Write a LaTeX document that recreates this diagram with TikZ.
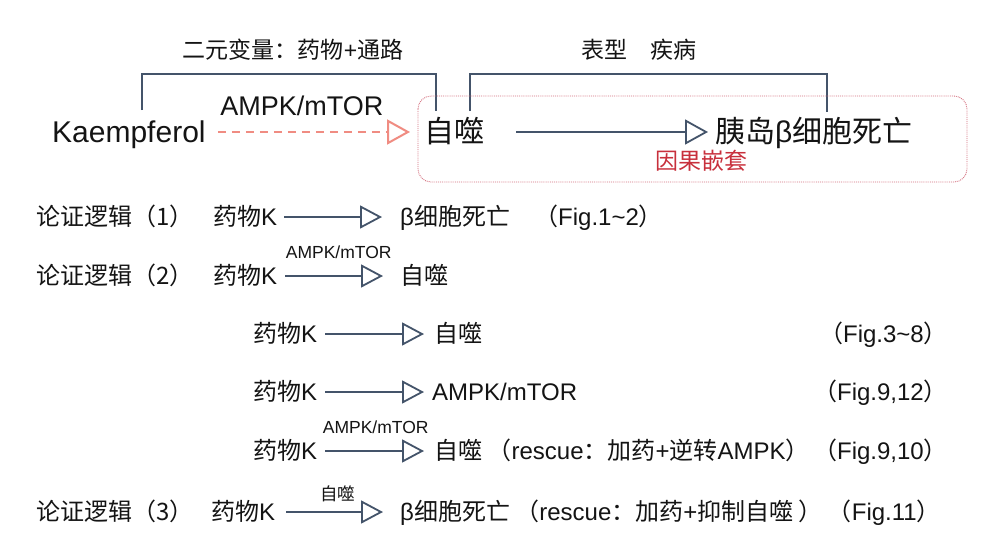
\documentclass[tikz,border=0pt]{standalone}
\usepackage{fontspec}
\setmainfont{Liberation Sans}
\newfontfamily\cjk{Noto Sans CJK SC}
\usetikzlibrary{arrows.meta}
\newcommand{\zh}[1]{{\cjk #1}}
\definecolor{arrowblue}{HTML}{44546A}
\definecolor{salmon}{HTML}{F08C82}
\definecolor{boxred}{HTML}{D4707E}
\definecolor{nestred}{HTML}{C8303C}
\definecolor{ink}{HTML}{141414}
\tikzset{
  big/.style={inner sep=0pt, anchor=west, text=ink, font=\fontsize{30}{36}\selectfont, text height=25pt, text depth=5pt},
  txt/.style={inner sep=0pt, anchor=west, text=ink, font=\fontsize{24}{29}\selectfont, text height=20pt, text depth=4pt},
  title/.style={inner sep=0pt, anchor=base, text=ink, font=\fontsize{23}{28}\selectfont},
  small/.style={inner sep=0pt, anchor=base, text=ink, font=\fontsize{17.5}{21}\selectfont},
  figtxt/.style={txt, anchor=east},
  arr/.style={draw=arrowblue, line width=1.8pt, -{Triangle[open, length=22pt, width=23pt]}},
  bigarr/.style={draw=arrowblue, line width=1.8pt, -{Triangle[open, length=23pt, width=25pt]}},
  dasharr/.style={draw=salmon, line width=2pt, dash pattern=on 8pt off 6pt, -{Triangle[open, length=23pt, width=25pt]}},
  bracket/.style={draw=arrowblue, line width=2pt},
}
\begin{document}
\begin{tikzpicture}[x=1pt, y=-1pt]
\useasboundingbox (0,0) rectangle (1002,552);
\fill[white] (0,0) rectangle (1002,552);

% top section
\node[title] (t1) at (293,58) {\zh{二元变量：药物}+\zh{通路}};
\node[title] (t2) at (639,58) {\zh{表型}\hspace{1em}\zh{疾病}};

\draw[bracket] (142,110) -- (142,74) -- (436,74) -- (436,111);
\draw[bracket] (470,111) -- (470,74) -- (827,74) -- (827,112);

\draw[boxred, line width=0.9pt, densely dotted, rounded corners=13pt] (418,96) rectangle (967,182);

\node[big] (kae) at (52,132) {Kaempferol};
\node[big] (auto) at (424,132) {\zh{自噬}};
\node[big] (death) at (715,132) {\zh{胰岛}β\zh{细胞死亡}};
\node[title, text=nestred] (nest) at (701,169) {\zh{因果嵌套}};

\draw[dasharr, shorten <=12pt, shorten >=14pt] (kae.east) -- node[pos=0.44, above=15pt, inner sep=0pt, text=ink, font=\fontsize{27}{32}\selectfont] (lab0) {AMPK/mTOR} (auto.west);
\draw[bigarr, shorten <=32pt, shorten >=7pt] (auto.east) -- (death.west);

% row 1
\node[txt] (l1) at (36,217) {\zh{论证逻辑（1）}};
\node[txt] (d1) at (213,217) {\zh{药物}K};
\node[txt] (r1) at (400,217) {β\zh{细胞死亡}};
\node[txt] (f1) at (534,217) {\zh{（}Fig.1\textasciitilde 2\zh{）}};
\draw[arr, shorten <=7pt, shorten >=18pt] (d1.east) -- (r1.west);

% row 2
\node[txt] (l2) at (36,276) {\zh{论证逻辑（2）}};
\node[txt] (d2) at (213,276) {\zh{药物}K};
\node[txt] (r2) at (400,276) {\zh{自噬}};
\draw[arr, shorten <=8pt, shorten >=17pt] (d2.east) -- node[small, above=16pt] (lab2) {AMPK/mTOR} (r2.west);

% row 3
\node[txt] (d3) at (253,334) {\zh{药物}K};
\node[txt] (r3) at (434,334) {\zh{自噬}};
\node[figtxt] (f3) at (948,334) {\zh{（}Fig.3\textasciitilde 8\zh{）}};
\draw[arr, shorten <=8pt, shorten >=10pt] (d3.east) -- (r3.west);

% row 4
\node[txt] (d4) at (253,392) {\zh{药物}K};
\node[txt] (r4) at (432,392) {AMPK/mTOR};
\node[figtxt] (f4) at (948,392) {\zh{（}Fig.9,12\zh{）}};
\draw[arr, shorten <=8pt, shorten >=8pt] (d4.east) -- (r4.west);

% row 5
\node[txt] (d5) at (253,451) {\zh{药物}K};
\node[txt] (r5) at (434,451) {\zh{自噬 （}rescue\zh{：加药}+\zh{逆转}AMPK\zh{）}};
\node[figtxt] (f5) at (948,451) {\zh{（}Fig.9,10\zh{）}};
\draw[arr, shorten <=8pt, shorten >=10pt] (d5.east) -- node[small, above=16pt] (lab5) {AMPK/mTOR} (r5.west);

% row 6
\node[txt] (l6) at (36,512) {\zh{论证逻辑（3）}};
\node[txt] (d6) at (211,512) {\zh{药物}K};
\node[txt] (r6) at (400,512) {β\zh{细胞死亡 （}rescue\zh{：加药}+\zh{抑制自噬 ）}};
\node[figtxt] (f6) at (941,512) {\zh{（}Fig.11\zh{）}};
\draw[arr, shorten <=11pt, shorten >=17pt] (d6.east) -- node[small, above=9pt] (lab6) {\zh{自噬}} (r6.west);
\end{tikzpicture}
\end{document}
